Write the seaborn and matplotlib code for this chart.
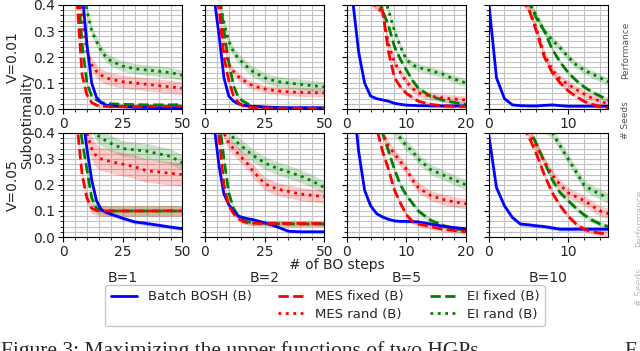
import matplotlib
matplotlib.use("Agg")
import pandas as pd
import matplotlib.pyplot as plt
from matplotlib.lines import Line2D
from matplotlib.ticker import MultipleLocator
import seaborn as sns

# ---------------------------------------------------------------------------
# Data
# ---------------------------------------------------------------------------
METHODS = ["Batch BOSH (B)", "MES fixed (B)", "MES rand (B)", "EI fixed (B)", "EI rand (B)"]
BATCHES = [1, 2, 5, 10]
NOISES = [0.01, 0.05]

STEPS_B1 = [0, 2, 4, 6, 8, 10, 12, 14, 16, 18, 20, 25, 30, 35, 40, 45, 50]
STEPS_B2 = [0, 2, 4, 6, 8, 10, 12, 14, 16, 18, 20, 25, 30, 35, 40, 45, 50]
STEPS_B5 = [0, 1, 2, 3, 4, 5, 6, 7, 8, 9, 10, 11, 12, 14, 16, 18, 20]
STEPS_B10 = [0, 1, 2, 3, 4, 5, 6, 7, 8, 9, 10, 11, 12, 13, 14, 15]
X_LIMITS = [50, 50, 20, 15]
X_MAJOR = [25, 25, 10, 10]
X_MINOR = [5, 5, 2, 2]

# V = 0.01
V01_B1_BOSH = [1.0, 0.9, 0.75, 0.55, 0.45, 0.25, 0.10, 0.045, 0.025, 0.015, 0.012, 0.009, 0.007, 0.006, 0.005, 0.005, 0.005]
V01_B1_MES_FIXED = [0.9, 0.8, 0.6, 0.4, 0.13, 0.055, 0.025, 0.015, 0.011, 0.01, 0.009, 0.009, 0.009, 0.01, 0.01, 0.01, 0.01]
V01_B1_MES_RAND = [0.9, 0.8, 0.65, 0.5, 0.35, 0.22, 0.17, 0.145, 0.13, 0.12, 0.115, 0.105, 0.1, 0.095, 0.09, 0.085, 0.08]
V01_B1_EI_FIXED = [0.9, 0.8, 0.65, 0.5, 0.25, 0.1, 0.05, 0.035, 0.025, 0.022, 0.02, 0.018, 0.017, 0.016, 0.016, 0.016, 0.017]
V01_B1_EI_RAND = [1.0, 0.95, 0.8, 0.65, 0.5, 0.38, 0.3, 0.26, 0.225, 0.2, 0.185, 0.165, 0.155, 0.15, 0.145, 0.14, 0.13]
BAND_V01_B1 = [0.005, 0.005, 0.025, 0.005, 0.02]

V01_B2_BOSH = [0.8, 0.55, 0.42, 0.28, 0.12, 0.05, 0.03, 0.02, 0.015, 0.012, 0.01, 0.008, 0.006, 0.005, 0.005, 0.005, 0.005]
V01_B2_MES_FIXED = [0.9, 0.7, 0.5, 0.38, 0.2, 0.11, 0.05, 0.025, 0.012, 0.008, 0.005, 0.004, 0.003, 0.003, 0.003, 0.003, 0.003]
V01_B2_MES_RAND = [0.9, 0.8, 0.6, 0.4, 0.25, 0.17, 0.145, 0.125, 0.112, 0.1, 0.09, 0.077, 0.07, 0.066, 0.064, 0.063, 0.062]
V01_B2_EI_FIXED = [0.9, 0.8, 0.6, 0.45, 0.3, 0.18, 0.09, 0.045, 0.03, 0.02, 0.012, 0.006, 0.005, 0.004, 0.004, 0.004, 0.004]
V01_B2_EI_RAND = [1.0, 0.9, 0.7, 0.42, 0.33, 0.26, 0.22, 0.195, 0.177, 0.16, 0.145, 0.12, 0.106, 0.1, 0.095, 0.09, 0.085]
BAND_V01_B2 = [0.004, 0.004, 0.015, 0.004, 0.02]

V01_B5_BOSH = [0.6, 0.42, 0.22, 0.1, 0.05, 0.04, 0.035, 0.03, 0.022, 0.018, 0.015, 0.014, 0.013, 0.012, 0.012, 0.012, 0.012]
V01_B5_MES_FIXED = [0.6, 0.55, 0.5, 0.45, 0.41, 0.395, 0.38, 0.22, 0.12, 0.085, 0.06, 0.045, 0.03, 0.018, 0.012, 0.01, 0.01]
V01_B5_MES_RAND = [0.6, 0.55, 0.5, 0.45, 0.41, 0.395, 0.37, 0.25, 0.18, 0.14, 0.105, 0.08, 0.062, 0.05, 0.043, 0.038, 0.035]
V01_B5_EI_FIXED = [0.7, 0.65, 0.6, 0.55, 0.5, 0.44, 0.38, 0.32, 0.24, 0.19, 0.15, 0.11, 0.08, 0.05, 0.035, 0.025, 0.018]
V01_B5_EI_RAND = [0.9, 0.85, 0.8, 0.7, 0.6, 0.52, 0.45, 0.38, 0.3, 0.24, 0.19, 0.17, 0.16, 0.148, 0.135, 0.115, 0.1]
BAND_V01_B5 = [0.003, 0.008, 0.015, 0.008, 0.015]

V01_B10_BOSH = [0.42, 0.12, 0.04, 0.016, 0.013, 0.012, 0.012, 0.014, 0.016, 0.013, 0.011, 0.011, 0.011, 0.011, 0.011, 0.011]
V01_B10_MES_FIXED = [0.8, 0.7, 0.6, 0.5, 0.42, 0.39, 0.3, 0.2, 0.14, 0.1, 0.07, 0.048, 0.03, 0.018, 0.01, 0.005]
V01_B10_MES_RAND = [0.8, 0.7, 0.6, 0.5, 0.42, 0.39, 0.31, 0.21, 0.15, 0.115, 0.095, 0.075, 0.058, 0.042, 0.03, 0.02]
V01_B10_EI_FIXED = [0.8, 0.7, 0.6, 0.52, 0.45, 0.42, 0.35, 0.3, 0.23, 0.18, 0.14, 0.11, 0.085, 0.065, 0.05, 0.035]
V01_B10_EI_RAND = [0.9, 0.8, 0.7, 0.6, 0.5, 0.41, 0.36, 0.3, 0.265, 0.235, 0.2, 0.17, 0.15, 0.135, 0.12, 0.105]
BAND_V01_B10 = [0.004, 0.008, 0.015, 0.008, 0.015]

# V = 0.05
V05_B1_BOSH = [1.0, 0.9, 0.75, 0.6, 0.48, 0.34, 0.22, 0.14, 0.105, 0.095, 0.088, 0.072, 0.058, 0.052, 0.045, 0.038, 0.032]
V05_B1_MES_FIXED = [0.9, 0.8, 0.6, 0.42, 0.24, 0.15, 0.11, 0.102, 0.1, 0.1, 0.1, 0.1, 0.1, 0.1, 0.1, 0.101, 0.1]
V05_B1_MES_RAND = [0.9, 0.8, 0.7, 0.6, 0.5, 0.4, 0.34, 0.31, 0.3, 0.295, 0.29, 0.28, 0.27, 0.255, 0.25, 0.245, 0.24]
V05_B1_EI_FIXED = [0.9, 0.8, 0.65, 0.5, 0.37, 0.26, 0.15, 0.11, 0.102, 0.1, 0.1, 0.1, 0.1, 0.1, 0.1, 0.1, 0.1]
V05_B1_EI_RAND = [1.0, 0.95, 0.85, 0.7, 0.6, 0.5, 0.44, 0.395, 0.38, 0.37, 0.36, 0.34, 0.335, 0.33, 0.32, 0.31, 0.285]
BAND_V05_B1 = [0.008, 0.02, 0.045, 0.02, 0.03]

V05_B2_BOSH = [0.8, 0.55, 0.42, 0.27, 0.165, 0.125, 0.1, 0.08, 0.075, 0.07, 0.067, 0.055, 0.04, 0.022, 0.02, 0.02, 0.02]
V05_B2_MES_FIXED = [0.9, 0.7, 0.55, 0.38, 0.2, 0.12, 0.09, 0.07, 0.06, 0.055, 0.053, 0.052, 0.052, 0.052, 0.052, 0.052, 0.052]
V05_B2_MES_RAND = [0.9, 0.8, 0.6, 0.48, 0.4, 0.36, 0.34, 0.32, 0.3, 0.28, 0.255, 0.205, 0.185, 0.175, 0.165, 0.16, 0.155]
V05_B2_EI_FIXED = [0.9, 0.8, 0.6, 0.45, 0.3, 0.17, 0.11, 0.08, 0.065, 0.058, 0.055, 0.053, 0.051, 0.05, 0.05, 0.05, 0.05]
V05_B2_EI_RAND = [1.0, 0.9, 0.8, 0.6, 0.5, 0.41, 0.38, 0.36, 0.345, 0.33, 0.315, 0.285, 0.265, 0.25, 0.235, 0.215, 0.19]
BAND_V05_B2 = [0.006, 0.01, 0.025, 0.01, 0.025]

V05_B5_BOSH = [0.8, 0.55, 0.33, 0.18, 0.12, 0.09, 0.077, 0.068, 0.062, 0.06, 0.06, 0.059, 0.058, 0.05, 0.042, 0.036, 0.032]
V05_B5_MES_FIXED = [0.9, 0.8, 0.7, 0.6, 0.5, 0.42, 0.33, 0.26, 0.18, 0.13, 0.085, 0.06, 0.05, 0.04, 0.03, 0.025, 0.02]
V05_B5_MES_RAND = [0.9, 0.8, 0.7, 0.6, 0.5, 0.45, 0.4, 0.35, 0.32, 0.29, 0.26, 0.22, 0.19, 0.16, 0.145, 0.135, 0.128]
V05_B5_EI_FIXED = [0.9, 0.8, 0.7, 0.6, 0.5, 0.45, 0.4, 0.33, 0.26, 0.2, 0.16, 0.13, 0.1, 0.065, 0.045, 0.032, 0.025]
V05_B5_EI_RAND = [1.0, 0.9, 0.8, 0.7, 0.6, 0.53, 0.48, 0.45, 0.41, 0.38, 0.35, 0.33, 0.3, 0.26, 0.24, 0.22, 0.2]
BAND_V05_B5 = [0.006, 0.01, 0.02, 0.01, 0.02]

V05_B10_BOSH = [0.4, 0.19, 0.12, 0.075, 0.05, 0.047, 0.043, 0.04, 0.035, 0.03, 0.03, 0.03, 0.03, 0.03, 0.03, 0.03]
V05_B10_MES_FIXED = [0.8, 0.7, 0.6, 0.5, 0.43, 0.39, 0.32, 0.24, 0.17, 0.12, 0.08, 0.05, 0.03, 0.02, 0.015, 0.01]
V05_B10_MES_RAND = [0.8, 0.7, 0.6, 0.5, 0.44, 0.41, 0.35, 0.29, 0.24, 0.2, 0.17, 0.155, 0.14, 0.12, 0.1, 0.09]
V05_B10_EI_FIXED = [0.8, 0.7, 0.6, 0.52, 0.46, 0.42, 0.36, 0.29, 0.22, 0.17, 0.14, 0.11, 0.085, 0.065, 0.05, 0.04]
V05_B10_EI_RAND = [0.9, 0.8, 0.7, 0.62, 0.55, 0.5, 0.46, 0.42, 0.4, 0.35, 0.3, 0.25, 0.2, 0.18, 0.165, 0.15]
BAND_V05_B10 = [0.008, 0.01, 0.02, 0.01, 0.02]

PANELS = {
    (0.01, 1): (STEPS_B1, [V01_B1_BOSH, V01_B1_MES_FIXED, V01_B1_MES_RAND, V01_B1_EI_FIXED, V01_B1_EI_RAND], BAND_V01_B1),
    (0.01, 2): (STEPS_B2, [V01_B2_BOSH, V01_B2_MES_FIXED, V01_B2_MES_RAND, V01_B2_EI_FIXED, V01_B2_EI_RAND], BAND_V01_B2),
    (0.01, 5): (STEPS_B5, [V01_B5_BOSH, V01_B5_MES_FIXED, V01_B5_MES_RAND, V01_B5_EI_FIXED, V01_B5_EI_RAND], BAND_V01_B5),
    (0.01, 10): (STEPS_B10, [V01_B10_BOSH, V01_B10_MES_FIXED, V01_B10_MES_RAND, V01_B10_EI_FIXED, V01_B10_EI_RAND], BAND_V01_B10),
    (0.05, 1): (STEPS_B1, [V05_B1_BOSH, V05_B1_MES_FIXED, V05_B1_MES_RAND, V05_B1_EI_FIXED, V05_B1_EI_RAND], BAND_V05_B1),
    (0.05, 2): (STEPS_B2, [V05_B2_BOSH, V05_B2_MES_FIXED, V05_B2_MES_RAND, V05_B2_EI_FIXED, V05_B2_EI_RAND], BAND_V05_B2),
    (0.05, 5): (STEPS_B5, [V05_B5_BOSH, V05_B5_MES_FIXED, V05_B5_MES_RAND, V05_B5_EI_FIXED, V05_B5_EI_RAND], BAND_V05_B5),
    (0.05, 10): (STEPS_B10, [V05_B10_BOSH, V05_B10_MES_FIXED, V05_B10_MES_RAND, V05_B10_EI_FIXED, V05_B10_EI_RAND], BAND_V05_B10),
}

# ---------------------------------------------------------------------------
# Styling
# ---------------------------------------------------------------------------
PALETTE = {
    "Batch BOSH (B)": "#0000ff",
    "MES fixed (B)": "#ff0000",
    "MES rand (B)": "#ff0000",
    "EI fixed (B)": "#008000",
    "EI rand (B)": "#008000",
}
DASHES = {
    "Batch BOSH (B)": "",
    "MES fixed (B)": (3.7, 1.6),
    "MES rand (B)": (1, 1.65),
    "EI fixed (B)": (3.7, 1.6),
    "EI rand (B)": (1, 1.65),
}
DRAW_ORDER = ["EI rand (B)", "EI fixed (B)", "MES rand (B)", "Batch BOSH (B)", "MES fixed (B)"]

sns.set_style("ticks")
plt.rcParams.update({
    "font.family": ["DejaVu Sans"],
    "font.size": 10,
    "xtick.labelsize": 10,
    "ytick.labelsize": 10,
    "axes.edgecolor": "black",
    "axes.linewidth": 0.8,
})

# long-form table for seaborn
rows = []
for (noise, batch), (steps, series, bands) in PANELS.items():
    for method, values, half in zip(METHODS, series, bands):
        for step, val in zip(steps, values):
            rows.append({"V": noise, "B": batch, "step": step, "subopt": val,
                         "lo": val - half, "hi": val + half, "method": method})
df = pd.DataFrame(rows)

fig, axes = plt.subplots(2, 4, figsize=(6.4, 3.51), dpi=100, sharey=True)
fig.subplots_adjust(left=63 / 640, right=608 / 640, top=1 - 5 / 351, bottom=1 - 237 / 351,
                    wspace=0.187, hspace=0.23)

for r, noise in enumerate(NOISES):
    for c, batch in enumerate(BATCHES):
        ax = axes[r, c]
        sub = df[(df["V"] == noise) & (df["B"] == batch)]
        for method in DRAW_ORDER:
            d = sub[sub["method"] == method]
            ax.fill_between(d["step"], d["lo"], d["hi"], color=PALETTE[method],
                            alpha=0.2, linewidth=0)
        sns.lineplot(data=sub, x="step", y="subopt", hue="method", style="method",
                     hue_order=DRAW_ORDER, style_order=DRAW_ORDER, palette=PALETTE,
                     dashes=DASHES, linewidth=2, errorbar=None, legend=False, ax=ax)
        ax.set_xlim(0, X_LIMITS[c])
        ax.set_ylim(0, 0.4)
        ax.xaxis.set_major_locator(MultipleLocator(X_MAJOR[c]))
        ax.xaxis.set_minor_locator(MultipleLocator(X_MINOR[c]))
        ax.yaxis.set_major_locator(MultipleLocator(0.1))
        ax.yaxis.set_minor_locator(MultipleLocator(0.02))
        ax.grid(True, which="both", color="#c4c4c4", linewidth=0.8)
        ax.set_axisbelow(True)
        ax.tick_params(which="major", direction="out", length=3.5, width=0.8, color="black")
        ax.tick_params(which="minor", direction="out", length=2, width=0.6, color="black")
        ax.tick_params(axis="both", pad=2)
        ax.set_xlabel("")
        ax.set_ylabel("")
        for spine in ax.spines.values():
            spine.set_visible(True)
            spine.set_color("black")

# row / column labels
fig.text(13 / 640, 1 - 57 / 351, "V=0.01", rotation=90, ha="center", va="center", fontsize=10)
fig.text(13 / 640, 1 - 185 / 351, "V=0.05", rotation=90, ha="center", va="center", fontsize=10)
fig.text(27 / 640, 1 - 121 / 351, "Suboptimality", rotation=90, ha="center", va="center", fontsize=10)
fig.text(337 / 640, 1 - 265 / 351, "# of BO steps", ha="center", va="center", fontsize=10)
for c, batch in enumerate(BATCHES):
    pos = axes[1, c].get_position()
    fig.text((pos.x0 + pos.x1) / 2, 1 - 278 / 351, f"B={batch}", ha="center", va="center", fontsize=10)

# legend: first column holds Batch BOSH and an empty slot
handles = [Line2D([], [], color=PALETTE[METHODS[0]], lw=2), Line2D([], [], color="none")]
labels = [METHODS[0], ""]
for method in METHODS[1:]:
    handles.append(Line2D([], [], color=PALETTE[method], lw=2, dashes=DASHES[method]))
    labels.append(method)
fig.legend(handles, labels, ncol=3, loc="upper center", bbox_to_anchor=(325 / 640, 1 - 285 / 351),
           borderaxespad=0, fontsize=9.5, frameon=True, edgecolor="#bbbbbb", fancybox=True,
           handlelength=2.0, columnspacing=2.0, borderpad=0.4, labelspacing=0.35)

# caption and neighbouring figure fragments (cut off in the reference)
fig.text(0.002, 1 - 356 / 351, "Figure 3: Maximizing the upper functions of two HGPs", ha="left",
         va="baseline", fontsize=15.5, family=["Liberation Serif", "DejaVu Serif"])
fig.text(624 / 640, 1 - 356 / 351, "F", ha="left", va="baseline", fontsize=15.5,
         family=["Liberation Serif", "DejaVu Serif"])
fig.text(626 / 640, 1 - 50 / 351, "Performance", rotation=90, ha="center", va="center", fontsize=6.5, color="#555555")
fig.text(626 / 640, 1 - 120 / 351, "# Seeds", rotation=90, ha="center", va="center", fontsize=6.5, color="#555555")
fig.text(640 / 640, 1 - 218 / 351, "Performance", rotation=90, ha="center", va="center", fontsize=6.5, color="#bbbbbb")
fig.text(640 / 640, 1 - 287 / 351, "# Seeds", rotation=90, ha="center", va="center", fontsize=6.5, color="#bbbbbb")

fig.savefig("out.png", dpi=100)
